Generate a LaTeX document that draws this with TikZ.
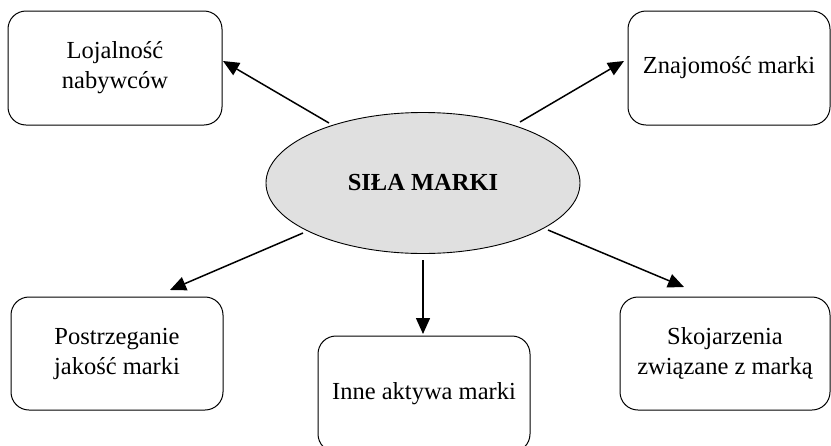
\documentclass[tikz,border=0pt]{standalone}
\usepackage{fontspec}
\setmainfont{Liberation Serif}
\usetikzlibrary{arrows.meta,shapes.geometric}
\begin{document}
\begin{tikzpicture}[x=1pt,y=-1pt,
  every node/.style={font=\fontsize{24.5}{30}\selectfont},
  boxnode/.style={draw, line width=1pt, rounded corners=18pt, align=center, inner sep=0pt},
  core/.style={draw, ellipse, fill=black!12, line width=0.9pt, inner sep=0pt},
  link/.style={line width=1.5pt, -{Triangle[length=16pt,width=14pt]}}]
  \clip (0,0) rectangle (831,445);
  \useasboundingbox (0,0) rectangle (831,445);
  % central ellipse
  \node[core, minimum width=314pt, minimum height=141pt] (sila) at (423,183) {\textbf{SIŁA MARKI}};
  % surrounding boxes
  \node[boxnode, minimum width=214pt, minimum height=114pt] (loj) at (115,68) {Lojalność\\nabywców};
  \node[boxnode, minimum width=202pt, minimum height=114pt] (zna) at (729,68) {Znajomość marki};
  \node[boxnode, minimum width=212pt, minimum height=113pt] (pos) at (117,353.5) {Postrzeganie\\jakość marki};
  \node[boxnode, minimum width=212pt, minimum height=116pt] (inn) at (424,394) {Inne aktywa marki};
  \node[boxnode, minimum width=210pt, minimum height=113pt] (sko) at (725,353.5) {Skojarzenia\\związane z marką};
  % arrow end points
  \coordinate (a1) at (329,123); \coordinate (b1) at (223,61);
  \coordinate (a2) at (520,122); \coordinate (b2) at (624,61);
  \coordinate (a3) at (303,233); \coordinate (b3) at (170,290);
  \coordinate (a4) at (423,260); \coordinate (b4) at (423,334);
  \coordinate (a5) at (548,230); \coordinate (b5) at (684,287);
  \draw[link] (a1) -- (b1);
  \draw[link] (a2) -- (b2);
  \draw[link] (a3) -- (b3);
  \draw[link] (a4) -- (b4);
  \draw[link] (a5) -- (b5);
\end{tikzpicture}
\end{document}
